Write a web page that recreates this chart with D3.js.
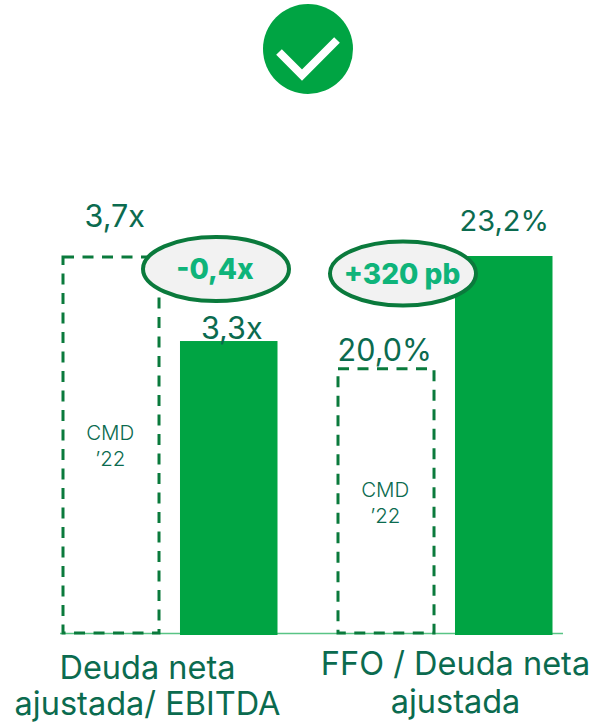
<!DOCTYPE html>
<html><head><meta charset="utf-8">
<script src="https://cdn.jsdelivr.net/npm/d3@7"></script>
<style>html,body{margin:0;padding:0;background:#fff}svg{display:block}text{font-family:Inter,sans-serif}</style>
</head><body><svg id="c" width="593" height="723"></svg>
<script>
const groups = ["Deuda neta ajustada/ EBITDA", "FFO / Deuda neta ajustada"];
const series = ["CMD '22", "Actual"];
const leverageValues = [3.7, 3.3];
const ffoValues = [20.0, 23.2];
const leverageLabels = ["3,7x", "3,3x"];
const ffoLabels = ["20,0%", "23,2%"];
const categoryLines = [["Deuda neta", "ajustada/ EBITDA"], ["FFO / Deuda neta", "ajustada"]];
const deltaLabels = ["-0,4x", "+320 pb"];
const cmdLines = ["CMD", "’22"];

const GREEN="#00a443", DASH="#0a7a3c", TXT="#0b6b4f", DELTA="#0fb47a";
const svg=d3.select("#c");
const y0=633;
const x0=d3.scaleBand(groups,[63,553]).paddingInner(60/275);
const x1=d3.scaleBand(series,[0,x0.bandwidth()]).paddingInner(0.17);
const yScales=[d3.scaleLinear([1.91,3.7],[y0,257]),d3.scaleLinear([12.5,23.2],[y0,256])];
const vals=[leverageValues,ffoValues], labs=[leverageLabels,ffoLabels];

const icon=svg.append("g");
icon.append("circle").attr("cx",308).attr("cy",49).attr("r",45).attr("fill",GREEN);
icon.append("path").attr("d","M279 52L302 75L337 40").attr("fill","none").attr("stroke","#fff").attr("stroke-width",8);

svg.append("line").attr("x1",60).attr("x2",563).attr("y1",y0+0.5).attr("y2",y0+0.5).attr("stroke",GREEN).attr("stroke-opacity",.65).attr("stroke-width",1.5);

const labelOffsets=[[[3,-30],[2.5,-2]],[[-2,-8],[0,-25]]];
const labelSizes=[[30.5,30.5],[30.5,29]];
groups.forEach((g,i)=>{
  const y=yScales[i], X=d=>x0(g)+x1(d);
  series.forEach((s,j)=>{
    const v=vals[i][j];
    if(j===0){
      svg.append("rect").attr("x",X(s)).attr("y",y(v)).attr("width",x1.bandwidth()-1.5).attr("height",y0-y(v))
        .attr("fill","none").attr("stroke",DASH).attr("stroke-width",3).attr("stroke-dasharray","11 8.5");
      const mid=y(v)+ (i===0?183:128);
      cmdLines.forEach((t,k)=>svg.append("text").attr("x",X(s)+x1.bandwidth()/2-1.5).attr("y",mid+k*26)
        .attr("text-anchor","middle").attr("font-size",20.5).attr("font-weight",300).attr("fill",TXT).text(t));
    } else {
      svg.append("rect").attr("x",X(s)-.5).attr("y",y(v)).attr("width",x1.bandwidth()).attr("height",y0+2-y(v)).attr("fill",GREEN);
    }
    svg.append("text").attr("x",X(s)+x1.bandwidth()/2+labelOffsets[i][j][0]).attr("y",y(v)+labelOffsets[i][j][1])
      .attr("text-anchor","middle").attr("font-size",labelSizes[i][j]).attr("font-weight",400).attr("fill",TXT).text(labs[i][j]);
  });
  categoryLines[i].forEach((t,k)=>svg.append("text").attr("x",x0(g)+x0.bandwidth()/2+(i===0?-23:10)).attr("y",(i===0?679:675)+k*(i===0?36:37.5))
    .attr("text-anchor","middle").attr("font-size",32.5).attr("font-weight",400).attr("fill",TXT).text(t));
});

[[216,269],[403,273.5]].forEach(([cx,cy],i)=>{
  svg.append("ellipse").attr("cx",cx).attr("cy",cy).attr("rx",73).attr("ry",32).attr("fill","#f2f2f2").attr("stroke",DASH).attr("stroke-width",4);
  svg.append("text").attr("x",cx-1).attr("y",cy+10).attr("text-anchor","middle").attr("font-size",28).attr("font-weight",800).attr("fill",DELTA).text(deltaLabels[i]);
});
</script></body></html>
